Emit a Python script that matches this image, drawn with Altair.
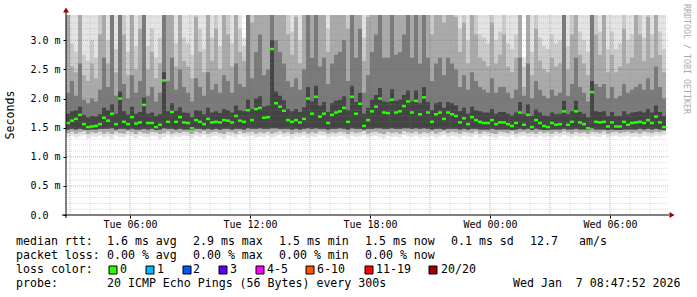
import altair as alt
import pandas as pd

# ---------------- data (ms), one column every 12 minutes from Tue 02:48 ----------------
start_hour = 2.8      # hours since Tue 00:00
step_hour = 0.2

median = [1.58,1.62,1.65,1.72,1.56,1.51,1.52,1.53,1.56,1.67,
          1.62,1.74,1.56,2.00,1.60,1.56,1.68,1.57,1.59,1.89,
          1.58,1.58,1.51,1.55,2.31,1.60,1.77,1.60,1.68,1.59,
          1.58,1.49,1.63,1.60,1.56,1.65,1.59,1.60,1.59,1.63,
          1.62,1.59,1.70,1.62,1.60,1.80,1.63,1.82,1.84,1.67,
          1.68,2.85,1.92,1.86,1.79,1.63,1.60,1.63,1.59,1.65,
          2.00,1.74,2.03,1.69,1.74,1.58,1.72,1.76,1.78,1.84,
          1.60,2.03,1.74,1.91,1.53,1.63,1.78,1.86,2.00,1.76,
          1.75,1.98,1.76,1.78,1.87,1.95,1.76,1.96,1.73,2.02,
          1.76,1.60,1.73,1.76,1.65,1.76,1.73,1.70,1.59,1.66,
          1.56,1.68,1.63,1.60,1.58,1.58,1.63,1.56,1.59,1.59,
          1.56,1.53,1.58,1.76,1.55,1.72,1.51,1.63,1.58,1.53,
          1.51,1.58,1.55,1.56,1.78,1.55,1.60,1.78,1.59,1.56,
          1.49,2.11,1.60,1.59,1.60,1.52,1.59,1.52,1.52,1.60,
          1.55,1.58,1.59,1.60,1.58,1.63,1.58,1.69,1.59,1.51]

ping_min = [1.34,1.36,1.33,1.35,1.37,1.32,1.35,1.34,1.36,1.33,
            1.35,1.31,1.36,1.34,1.33,1.37,1.35,1.32,1.36,1.34,
            1.33,1.36,1.35,1.31,1.34,1.37,1.33,1.35,1.34,1.36,
            1.35,1.32,1.36,1.34,1.37,1.33,1.35,1.36,1.34,1.32,
            1.36,1.35,1.33,1.37,1.34,1.35,1.36,1.33,1.35,1.34,
            1.36,1.33,1.35,1.37,1.34,1.36,1.32,1.35,1.34,1.36,
            1.33,1.35,1.34,1.37,1.36,1.33,1.35,1.34,1.36,1.35,
            1.32,1.36,1.34,1.35,1.37,1.33,1.35,1.36,1.34,1.32,
            1.36,1.34,1.35,1.33,1.37,1.35,1.34,1.36,1.33,1.35,
            1.34,1.36,1.33,1.35,1.37,1.34,1.36,1.35,1.33,1.36,
            1.35,1.34,1.37,1.33,1.36,1.35,1.34,1.32,1.36,1.35,
            1.34,1.37,1.33,1.35,1.36,1.34,1.35,1.33,1.36,1.34,
            1.35,1.33,1.36,1.34,1.37,1.35,1.33,1.36,1.34,1.35,
            1.33,1.36,1.35,1.34,1.37,1.33,1.35,1.36,1.34,1.35,
            1.36,1.34,1.35,1.33,1.36,1.35,1.34,1.36,1.35,1.37]

ping_low2 = [1.41,1.43,1.40,1.42,1.44,1.39,1.42,1.41,1.43,1.40,
             1.42,1.39,1.43,1.41,1.40,1.44,1.42,1.39,1.43,1.41,
             1.40,1.43,1.42,1.39,1.41,1.44,1.40,1.42,1.41,1.43,
             1.42,1.39,1.43,1.41,1.44,1.40,1.42,1.43,1.41,1.39,
             1.43,1.42,1.40,1.44,1.41,1.42,1.43,1.40,1.42,1.41,
             1.43,1.40,1.42,1.44,1.41,1.43,1.39,1.42,1.41,1.43,
             1.40,1.42,1.41,1.44,1.43,1.40,1.42,1.41,1.43,1.42,
             1.39,1.43,1.41,1.42,1.44,1.40,1.42,1.43,1.41,1.39,
             1.43,1.41,1.42,1.40,1.44,1.42,1.41,1.43,1.40,1.42,
             1.41,1.43,1.40,1.42,1.44,1.41,1.43,1.42,1.40,1.43,
             1.42,1.41,1.44,1.40,1.43,1.42,1.41,1.39,1.43,1.42,
             1.41,1.44,1.40,1.42,1.43,1.41,1.42,1.40,1.43,1.41,
             1.42,1.40,1.43,1.41,1.44,1.42,1.40,1.43,1.41,1.42,
             1.40,1.43,1.42,1.41,1.44,1.40,1.42,1.43,1.41,1.42,
             1.43,1.41,1.42,1.40,1.43,1.42,1.41,1.43,1.42,1.44]

ping_low3 = [1.47,1.48,1.47,1.48,1.47,1.46,1.47,1.47,1.48,1.48,
             1.48,1.49,1.47,1.48,1.48,1.47,1.48,1.47,1.47,1.48,
             1.47,1.48,1.46,1.47,1.49,1.48,1.48,1.47,1.48,1.47,
             1.47,1.46,1.48,1.48,1.47,1.48,1.47,1.48,1.47,1.48,
             1.48,1.47,1.48,1.48,1.47,1.49,1.48,1.48,1.49,1.48,
             1.48,1.49,1.49,1.48,1.48,1.48,1.47,1.48,1.47,1.48,
             1.49,1.48,1.49,1.48,1.48,1.47,1.48,1.48,1.49,1.48,
             1.47,1.49,1.48,1.48,1.47,1.48,1.48,1.49,1.49,1.48,
             1.48,1.49,1.48,1.48,1.49,1.49,1.48,1.49,1.48,1.49,
             1.48,1.47,1.48,1.48,1.47,1.48,1.48,1.48,1.47,1.48,
             1.47,1.48,1.48,1.47,1.47,1.47,1.48,1.47,1.47,1.47,
             1.47,1.46,1.47,1.48,1.47,1.48,1.46,1.48,1.47,1.46,
             1.46,1.47,1.47,1.47,1.48,1.47,1.47,1.48,1.47,1.47,
             1.46,1.49,1.47,1.47,1.47,1.46,1.47,1.46,1.46,1.47,
             1.47,1.47,1.47,1.48,1.47,1.48,1.47,1.48,1.47,1.46]

ping_hi0 = [1.74,1.78,1.80,1.86,1.72,1.68,1.70,1.69,1.73,1.84,
            1.80,1.90,1.74,2.12,1.78,1.72,1.86,1.74,1.77,2.02,
            1.74,1.76,1.70,1.73,2.45,1.78,1.92,1.79,1.85,1.76,
            1.75,1.68,1.80,1.79,1.73,1.84,1.76,1.78,1.75,1.82,
            1.80,1.76,1.88,1.80,1.78,1.98,1.82,2.00,2.04,1.86,
            1.88,3.00,2.12,2.05,1.97,1.82,1.78,1.82,1.77,1.85,
            2.20,1.95,2.22,1.88,1.94,1.77,1.92,1.96,1.98,2.04,
            1.80,2.22,1.94,2.10,1.74,1.84,1.98,2.06,2.18,1.95,
            1.94,2.16,1.96,1.98,2.06,2.14,1.95,2.14,1.92,2.20,
            1.94,1.80,1.92,1.94,1.84,1.94,1.92,1.88,1.78,1.84,
            1.74,1.86,1.80,1.78,1.76,1.76,1.82,1.74,1.77,1.77,
            1.74,1.71,1.76,1.94,1.73,1.90,1.70,1.81,1.76,1.71,
            1.70,1.76,1.73,1.74,1.96,1.73,1.78,1.96,1.77,1.74,
            1.68,2.30,1.78,1.77,1.78,1.70,1.77,1.70,1.70,1.78,
            1.73,1.76,1.77,1.78,1.76,1.82,1.76,1.88,1.77,1.70]

ping_hi1 = [2.10,2.30,2.05,2.60,1.98,1.92,2.00,1.95,2.15,2.70,
            2.20,3.60,2.05,3.80,2.25,2.00,2.40,2.10,2.30,3.60,
            2.05,2.20,1.95,2.10,3.90,2.30,2.70,2.15,2.50,2.20,
            2.10,1.95,2.35,2.20,2.05,2.45,2.15,2.25,2.10,2.40,
            2.30,2.10,2.60,2.25,2.20,3.70,2.35,2.80,3.10,2.40,
            2.50,3.90,3.00,2.80,2.60,2.30,2.20,2.35,2.15,2.50,
            3.70,2.70,3.80,2.55,2.70,2.25,2.60,2.75,2.80,3.00,
            2.30,3.70,2.70,3.20,2.10,2.40,2.80,3.10,3.70,2.70,
            2.70,3.80,2.75,2.80,3.10,3.60,2.70,3.60,2.60,3.80,
            2.70,2.30,2.60,2.70,2.40,2.70,2.60,2.50,2.20,2.40,
            2.15,2.45,2.30,2.20,2.15,2.10,2.35,2.10,2.20,2.20,
            2.10,2.00,2.15,2.70,2.05,2.60,2.00,2.30,2.15,2.05,
            2.00,2.15,2.05,2.10,3.60,2.05,2.25,2.70,2.20,2.10,
            1.95,3.80,2.25,2.20,2.25,2.00,2.20,2.00,2.05,2.25,
            2.10,2.15,2.20,2.25,2.15,2.35,2.15,2.55,2.20,2.00]

ping_hi2 = [3.60,2.55,2.45,3.80,2.40,2.30,2.60,2.35,3.10,3.90,
            2.60,4.20,2.45,4.50,3.10,2.40,3.60,2.50,3.20,4.10,
            2.50,2.80,2.35,2.60,4.60,3.50,3.80,2.55,3.60,2.65,
            2.55,2.35,3.40,2.80,2.45,3.70,2.65,3.20,2.50,3.60,
            3.10,2.55,3.90,2.80,2.65,4.30,3.30,4.00,4.20,3.50,
            3.70,4.60,4.10,3.90,3.80,3.10,2.75,3.40,2.60,3.60,
            4.40,3.90,4.50,3.60,3.80,2.80,3.70,3.90,4.00,4.10,
            3.20,4.40,3.80,4.20,2.65,3.40,3.90,4.20,4.40,3.80,
            3.80,4.50,3.90,4.00,4.20,4.30,3.70,4.20,3.60,4.50,
            3.70,3.10,3.60,3.80,3.30,3.90,3.60,3.40,2.80,3.30,
            2.60,3.50,3.10,2.70,2.65,2.55,3.30,2.60,2.75,3.10,
            2.55,2.45,2.70,3.80,2.20,3.60,2.40,3.20,2.65,2.50,
            2.45,2.70,2.55,2.60,4.20,2.50,3.10,3.80,2.75,2.60,
            2.40,4.40,3.10,2.75,3.50,2.45,2.75,2.45,2.55,3.20,
            2.60,2.70,3.60,3.10,2.65,3.40,2.70,3.70,2.75,2.45]

ping_hi3 = [4.50,2.95,2.80,5.00,2.75,2.65,3.00,2.70,4.20,5.20,
            3.00,5.60,2.85,6.00,4.00,2.80,4.80,2.90,4.20,5.50,
            2.90,3.20,2.70,3.05,6.00,4.60,5.00,2.95,4.80,3.05,
            2.95,2.75,4.50,3.20,2.85,4.90,3.05,4.10,2.90,4.80,
            4.00,2.95,5.20,3.20,2.90,5.80,4.30,5.40,5.60,4.60,
            4.90,6.20,5.40,5.20,5.00,4.00,3.15,4.40,3.00,4.80,
            5.80,5.20,6.00,4.80,5.00,3.20,4.90,5.20,5.30,5.50,
            4.20,5.80,5.00,5.60,3.05,4.40,5.20,5.60,5.90,5.00,
            5.00,6.00,5.20,5.30,5.60,5.70,4.90,5.60,4.80,6.00,
            4.90,4.00,4.80,5.00,4.30,5.20,4.80,4.40,3.20,4.30,
            3.00,4.60,4.00,3.10,3.05,2.95,4.30,3.00,3.15,4.00,
            2.95,2.85,3.10,5.00,2.55,4.80,2.80,4.10,3.05,2.90,
            2.85,3.10,2.95,3.00,5.60,2.90,4.00,5.00,3.15,3.00,
            2.80,5.80,4.00,3.15,4.60,2.85,3.15,2.85,2.95,4.20,
            3.00,3.10,4.80,4.00,3.05,4.40,3.10,4.90,3.15,2.85]

ping_max = [5.2,4.1,3.9,6.5,3.8,3.7,4.4,3.8,5.0,6.8,
            4.3,7.0,4.0,7.5,4.9,3.9,5.8,4.2,5.1,6.9,
            4.0,4.6,3.8,4.4,7.8,5.5,6.2,4.3,5.9,4.4,
            4.1,3.8,5.4,4.6,4.0,6.0,4.4,5.0,4.0,5.8,
            4.8,4.1,6.4,4.6,3.05,6.5,5.2,6.6,6.9,5.6,
            6.0,7.9,6.7,6.4,6.2,4.9,4.5,5.4,4.3,5.9,
            7.1,6.4,7.4,5.9,6.2,4.8,6.0,6.4,6.5,6.8,
            5.1,7.2,6.2,6.9,4.4,5.4,6.4,6.9,7.3,6.2,
            6.2,7.4,6.4,6.5,6.9,7.0,6.0,6.9,5.9,7.4,
            6.0,4.9,5.9,6.2,5.3,6.4,5.9,5.4,4.8,5.3,
            4.3,5.6,4.9,4.5,4.4,4.1,5.3,4.3,4.6,4.9,
            4.1,4.0,4.5,6.2,2.70,5.9,3.9,5.0,4.4,4.0,
            4.0,4.5,4.1,4.3,6.9,4.0,4.9,6.2,4.6,4.3,
            3.9,7.2,4.9,4.6,5.6,4.0,4.6,4.0,4.1,5.1,
            4.3,4.5,5.9,4.9,4.4,5.4,4.5,6.0,4.6,4.0]

# axes
x_tick_hours = [6, 12, 18, 24, 30]
x_tick_labels = ["Tue 06:00", "Tue 12:00", "Tue 18:00", "Wed 00:00", "Wed 06:00"]
x_major_hours = [3, 6, 9, 12, 15, 18, 21, 24, 27, 30]
x_minor_hours = [4, 5, 7, 8, 10, 11, 13, 14, 16, 17, 19, 20, 22, 23, 25, 26, 28, 29, 31, 32]
y_tick_values = [0.0, 0.5, 1.0, 1.5, 2.0, 2.5, 3.0]
y_tick_labels = ["0.0", "0.5 m", "1.0 m", "1.5 m", "2.0 m", "2.5 m", "3.0 m"]
y_minor_values = [0.1, 0.2, 0.3, 0.4, 0.6, 0.7, 0.8, 0.9, 1.1, 1.2, 1.3, 1.4, 1.6, 1.7, 1.8, 1.9,
                  2.1, 2.2, 2.3, 2.4, 2.6, 2.7, 2.8, 2.9, 3.1, 3.2, 3.3, 3.4]
y_major_values = [0.5, 1.0, 1.5, 2.0, 2.5, 3.0]

# legend texts
legend_rtt = [("median rtt:", 16), ("1.6 ms avg", 107), ("2.9 ms max", 193), ("1.5 ms min", 279),
              ("1.5 ms now", 365), ("0.1 ms sd", 451), ("12.7", 530), ("am/s", 579)]
legend_loss = [("packet loss:", 16), ("0.00 % avg", 107), ("0.00 % max", 193),
               ("0.00 % min", 279), ("0.00 % now", 365)]
loss_labels = ["0", "1", "2", "3", "4-5", "6-10", "11-19", "20/20"]
loss_colors = ["#26ff00", "#00b8ff", "#0059ff", "#5e00ff", "#ff00ff", "#ff5500", "#ff0000", "#a10000"]
loss_box_x = [109, 146, 183, 219, 256, 306, 365, 429]
loss_text_x = [120, 157, 193, 230, 267, 317, 376, 441]
probe_line = [("probe:", 16), ("20 ICMP Echo Pings (56 Bytes) every 300s", 107),
              ("Wed Jan\u00a0\u00a07 08:47:52 2026", 513)]

# ---------------- layout ----------------
LEFT, TOP = 66, 15
W, H = 602, 200
PX_PER_HOUR = 20.0
PX_PER_MS = 58.23
X_DOMAIN = [start_hour, start_hour + W / PX_PER_HOUR]
Y_DOMAIN = [0, H / PX_PER_MS]
FONT = "DejaVu Sans Mono"

n = len(median)
hours = [start_hour + step_hour * i for i in range(n)]
df = pd.DataFrame(dict(t=hours, med=median, lo=ping_min, lo2=ping_low2, lo3=ping_low3,
                       hi0=ping_hi0, hi1=ping_hi1, hi2=ping_hi2, hi3=ping_hi3, top=ping_max))
closing = df.iloc[[-1]].copy()
closing["t"] = start_hour + step_hour * n
df_area = pd.concat([df, closing], ignore_index=True)
df["tc"] = df["t"] + step_hour / 2

xs = alt.Scale(domain=X_DOMAIN, nice=False, zero=False)
ys = alt.Scale(domain=Y_DOMAIN, nice=False, zero=False)


def cond_expr(vals, labels):
    s = "''"
    for v, l in reversed(list(zip(vals, labels))):
        s = f"datum.value == {v} ? '{l}' : ({s})"
    return s


x_axis = alt.Axis(values=x_tick_hours, labelExpr=cond_expr(x_tick_hours, x_tick_labels), grid=False,
                  domain=False, ticks=True, tickSize=3, tickColor="black", labelFont=FONT,
                  labelFontSize=10, labelColor="black", labelPadding=1, title=None, labelFlush=False)
y_axis = alt.Axis(values=y_tick_values, labelExpr=cond_expr(y_tick_values, y_tick_labels), grid=False,
                  domain=False, ticks=True, tickSize=3, tickColor="black", labelFont=FONT,
                  labelFontSize=10, labelColor="black", labelAlign="left", labelPadding=33,
                  labelBaseline="middle", title=None)


def X(field):
    return alt.X(field, scale=xs, axis=x_axis)


def Y(field):
    return alt.Y(field, scale=ys, axis=y_axis)


layers = []
bands = [("lo", "top", "#e4e4e4"), ("lo2", "hi3", "#cbcbcb"), ("lo2", "hi2", "#aaaaaa"),
         ("lo3", "hi1", "#7a7a7a"), ("lo3", "hi0", "#444444")]
for lower, upper, col in bands:
    layers.append(
        alt.Chart(df_area).mark_area(interpolate="step-after", color=col, clip=True).encode(
            x=X("t:Q"), y=Y(f"{lower}:Q"), y2=f"{upper}:Q")
    )

# grid (drawn over the smoke)
layers.append(alt.Chart(pd.DataFrame({"v": y_minor_values})).mark_rule(
    color="#8f8f8f", opacity=0.3, strokeDash=[1, 1], strokeWidth=1).encode(y=Y("v:Q")))
layers.append(alt.Chart(pd.DataFrame({"v": x_minor_hours})).mark_rule(
    color="#8f8f8f", opacity=0.3, strokeDash=[1, 1], strokeWidth=1).encode(x=X("v:Q")))
layers.append(alt.Chart(pd.DataFrame({"v": y_major_values})).mark_rule(
    color="#e83030", opacity=0.45, strokeDash=[1, 1], strokeWidth=1).encode(y=Y("v:Q")))
layers.append(alt.Chart(pd.DataFrame({"v": x_major_hours})).mark_rule(
    color="#e83030", opacity=0.45, strokeDash=[1, 1], strokeWidth=1).encode(x=X("v:Q")))

# median markers
layers.append(alt.Chart(df).mark_tick(orient="horizontal", color="#26ff00", thickness=2.5, size=4,
                                      opacity=1, clip=True).encode(x=X("tc:Q"), y=Y("med:Q")))

one = pd.DataFrame({"a": [0]})
# axis lines + arrows
layers.append(alt.Chart(one).mark_rule(color="black", strokeWidth=1).encode(
    x=alt.value(0), y=alt.value(-4), y2=alt.value(H + 3)))
layers.append(alt.Chart(one).mark_rule(color="black", strokeWidth=1).encode(
    y=alt.value(H), x=alt.value(-4), x2=alt.value(W + 1)))
layers.append(alt.Chart(one).mark_point(shape="triangle-up", filled=True, color="#a00000", size=35,
                                        opacity=1).encode(x=alt.value(0), y=alt.value(-5)))
layers.append(alt.Chart(one).mark_point(shape="triangle-right", filled=True, color="#a00000", size=35,
                                        opacity=1).encode(x=alt.value(W + 4), y=alt.value(H)))


def text_layer(s, ax, ay, size=11.6, color="black", align="left", angle=0):
    return alt.Chart(one).mark_text(text=s, font=FONT, fontSize=size, color=color, align=align,
                                    baseline="middle", angle=angle).encode(
        x=alt.value(ax - LEFT), y=alt.value(ay - TOP))


layers.append(text_layer("Seconds", 11, 115, size=11.6, align="center", angle=270))
layers.append(text_layer("RRDTOOL / TOBI OETIKER", 686, 59, size=8.3, color="#aaaaaa",
                         align="center", angle=90))

for s, x in legend_rtt:
    layers.append(text_layer(s, x, 242))
for s, x in legend_loss:
    layers.append(text_layer(s, x, 256))
layers.append(text_layer("loss color:", 16, 270))
for lab, col, bx, tx in zip(loss_labels, loss_colors, loss_box_x, loss_text_x):
    layers.append(alt.Chart(one).mark_rect(fill=col, stroke="black", strokeWidth=1).encode(
        x=alt.value(bx - LEFT), x2=alt.value(bx + 8 - LEFT), y=alt.value(266 - TOP), y2=alt.value(274 - TOP)))
    layers.append(text_layer(lab, tx, 270))
for s, x in probe_line:
    layers.append(text_layer(s, x, 284))

chart = alt.layer(*layers).properties(
    width=W, height=H,
    autosize=alt.AutoSizeParams(type="none"),
    padding={"left": LEFT, "top": TOP, "right": 697 - LEFT - W, "bottom": 297 - TOP - H},
    background="white",
).configure_view(stroke=None)

chart.save("out.html", embed_options={"renderer": "svg", "actions": False})
